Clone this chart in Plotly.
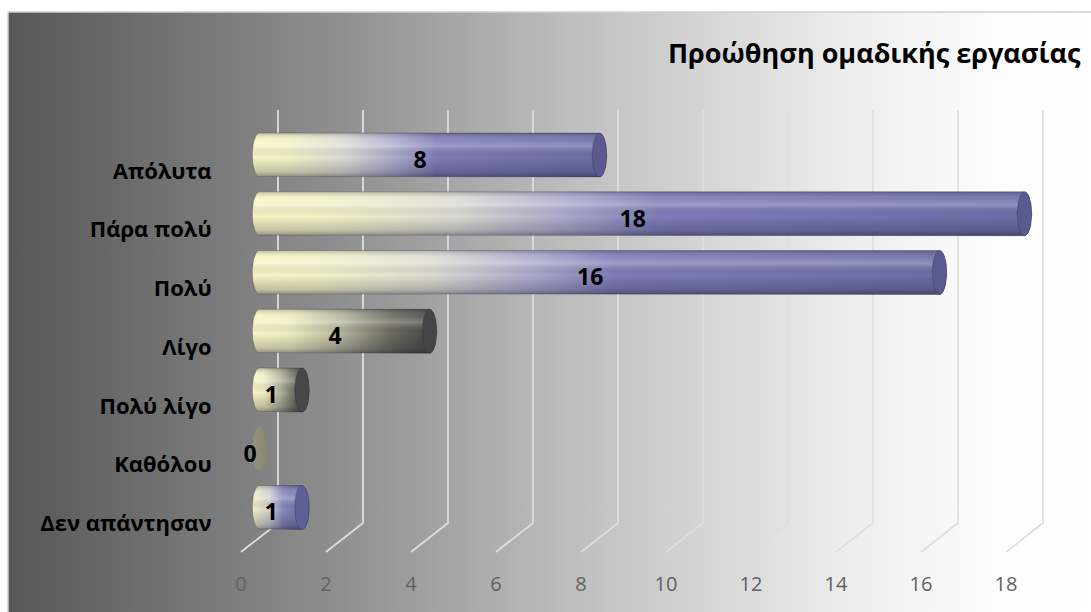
import numpy as np
import plotly.graph_objects as go

# ---- data -------------------------------------------------------------
categories = ["Δεν απάντησαν", "Καθόλου", "Πολύ λίγο", "Λίγο", "Πολύ", "Πάρα πολύ", "Απόλυτα"]
counts = [1, 0, 1, 4, 16, 18, 8]
x_ticks = [0, 2, 4, 6, 8, 10, 12, 14, 16, 18]
x_tick_labels = [str(t) for t in x_ticks]
chart_title = "Προώθηση ομαδικής εργασίας"

# ---- styling ------------------------------------------------------------
YELLOW = "#f7f5c4"
SCALE_BLUE = [[0.0, YELLOW], [0.1, "#f4f2c8"], [0.26, "#dcdcd4"], [0.40, "#acacce"],
              [0.52, "#7f7db7"], [1.0, "#6d6da8"]]
SCALE_GREY = [[0.0, YELLOW], [0.2, "#f0eec2"], [0.47, "#b9b9a0"], [0.75, "#6c6c62"],
              [1.0, "#434343"]]
SCALE_BLUE_SHORT = [[0.0, "#f2f0c6"], [0.3, "#cfcfd2"], [0.55, "#8584bb"], [1.0, "#6c6ca8"]]
SCALE_OLIVE = [[0.0, "rgba(160,160,115,0.6)"], [1.0, "rgba(140,140,100,0.6)"]]
bar_scales = [SCALE_BLUE_SHORT, SCALE_OLIVE, SCALE_GREY, SCALE_GREY,
              SCALE_BLUE, SCALE_BLUE, SCALE_BLUE]
cap_colors = ["#5f5f98", "rgba(135,135,100,0.6)", "#474747", "#454545",
              "#5a5a90", "#5a5a90", "#5a5a90"]

FONT = "Open Sans"
W, H = 1091, 612

# pixel frame of the plotting area and the scale of the axes
PX_L, PX_R, PY_T, PY_B = 225, 1080, 100, 566
UNIT_X = 42.5    # px per count
UNIT_Y = 58.75   # px per category row
X0_PX = 259.5    # px of count 0 on the bar plane
Y0_PX = 507.5    # px of the first row centre

x_range = [(PX_L - X0_PX) / UNIT_X, (PX_R - X0_PX) / UNIT_X]
y_range = [(Y0_PX - PY_B) / UNIT_Y, (Y0_PX - PY_T) / UNIT_Y]

# half depth of the 3-D box, in axis units
DX = 18.5 / UNIT_X
DY = 14.5 / UNIT_Y
WALL_TOP = (Y0_PX - 110) / UNIT_Y
FLOOR_MID = -0.51

RX = 7.2 / UNIT_X     # cylinder end-cap half width
RY = 22.0 / UNIT_Y    # cylinder radius

fig = go.Figure()

# ---- background (full page subplot) -------------------------------------
fig.add_trace(go.Scatter(
    x=[8 / W, 1.0, 1.0, 8 / W, 8 / W], y=[0, 0, 1 - 12 / H, 1 - 12 / H, 0],
    mode="lines", line=dict(width=0), fill="toself",
    fillgradient=dict(type="horizontal",
                      colorscale=[[0, "#575757"], [0.3, "#8e8e8e"], [0.55, "#c4c4c4"],
                                  [0.78, "#eeeeee"], [0.92, "#fdfdfd"], [1, "#ffffff"]]),
    xaxis="x", yaxis="y", hoverinfo="skip", showlegend=False))

# ---- 3-D gridlines: back wall verticals + floor diagonals --------------
gx, gy = [], []
for t in x_ticks:
    gx += [t + DX, t + DX, t - DX, None]
    gy += [WALL_TOP, FLOOR_MID + DY, FLOOR_MID - DY, None]
fig.add_trace(go.Scatter(x=gx, y=gy, mode="lines",
                         line=dict(color="#dedede", width=1.8),
                         xaxis="x2", yaxis="y2", hoverinfo="skip", showlegend=False))

# ---- cylinders ------------------------------------------------------------
th_r = np.linspace(np.pi / 2, -np.pi / 2, 40)
th_l = np.linspace(-np.pi / 2, -3 * np.pi / 2, 40)
th_full = np.linspace(0, 2 * np.pi, 80)

SHADE = [[0.0, "rgba(20,20,40,0.45)"], [0.12, "rgba(20,20,40,0.22)"],
         [0.45, "rgba(0,0,0,0.0)"], [0.7, "rgba(255,255,255,0.25)"],
         [0.85, "rgba(255,255,255,0.08)"], [1.0, "rgba(20,20,40,0.25)"]]

for i, v in enumerate(counts):
    bx = np.concatenate([v + RX * np.cos(th_r), RX * np.cos(th_l), [v]])
    by = np.concatenate([i + RY * np.sin(th_r), i + RY * np.sin(th_l), [i + RY]])
    fig.add_trace(go.Scatter(
        x=bx, y=by, mode="lines", fill="toself",
        line=dict(width=0.8, color="rgba(40,40,60,0.35)" if v > 0 else "rgba(0,0,0,0)"),
        fillgradient=dict(type="horizontal", colorscale=bar_scales[i]),
        xaxis="x2", yaxis="y2", hoverinfo="skip", showlegend=False))
    if v > 0:
        fig.add_trace(go.Scatter(
            x=bx, y=by, mode="lines", fill="toself", line=dict(width=0),
            fillgradient=dict(type="vertical", colorscale=SHADE),
            xaxis="x2", yaxis="y2", hoverinfo="skip", showlegend=False))
        fig.add_trace(go.Scatter(
            x=v + RX * np.cos(th_full), y=i + RY * np.sin(th_full),
            mode="lines", fill="toself",
            line=dict(width=0.8, color="rgba(40,40,60,0.4)"),
            fillcolor=cap_colors[i],
            xaxis="x2", yaxis="y2", hoverinfo="skip", showlegend=False))

# value labels
fig.add_trace(go.Scatter(
    x=[v / 2 - 0.22 for v in counts], y=[k - 0.12 for k in range(len(counts))],
    mode="text", text=[str(v) for v in counts],
    textfont=dict(family=FONT, size=23, color="#000000", weight="bold"),
    xaxis="x2", yaxis="y2", hoverinfo="skip", showlegend=False, cliponaxis=False))

# ---- layout -------------------------------------------------------------
fig.update_layout(
    width=W, height=H,
    margin=dict(l=0, r=0, t=0, b=0),
    paper_bgcolor="#ffffff", plot_bgcolor="rgba(0,0,0,0)",
    showlegend=False,
    xaxis=dict(domain=[0, 1], range=[0, 1], visible=False, fixedrange=True),
    yaxis=dict(domain=[0, 1], range=[0, 1], visible=False, fixedrange=True),
    xaxis2=dict(domain=[PX_L / W, PX_R / W], range=x_range, anchor="y2",
                showgrid=False, zeroline=False, showline=False,
                tickmode="array", tickvals=[t - DX for t in x_ticks], ticktext=x_tick_labels,
                ticks="outside", ticklen=0, ticklabelstandoff=0,
                tickfont=dict(family=FONT, size=20, color="#616161")),
    yaxis2=dict(domain=[1 - PY_B / H, 1 - PY_T / H], range=y_range, anchor="x2",
                showgrid=False, zeroline=False, showline=False,
                tickmode="array", tickvals=[k - 0.27 for k in range(len(categories))],
                ticktext=categories, ticks="outside", ticklen=0, ticklabelstandoff=8,
                tickfont=dict(family=FONT, size=22, color="#000000", weight="bold")),
    shapes=[dict(type="rect", xref="paper", yref="paper",
                 x0=8 / W, x1=1.01, y0=-0.01, y1=1 - 12 / H,
                 line=dict(color="#d0d0d0", width=1.5), layer="above")],
    annotations=[dict(text=chart_title, xref="paper", yref="paper",
                      x=1083 / W, y=1 - 52 / H, xanchor="right", yanchor="middle",
                      showarrow=False,
                      font=dict(family=FONT, size=27, color="#000000", weight="bold"))],
)

fig.write_html("out.html")
